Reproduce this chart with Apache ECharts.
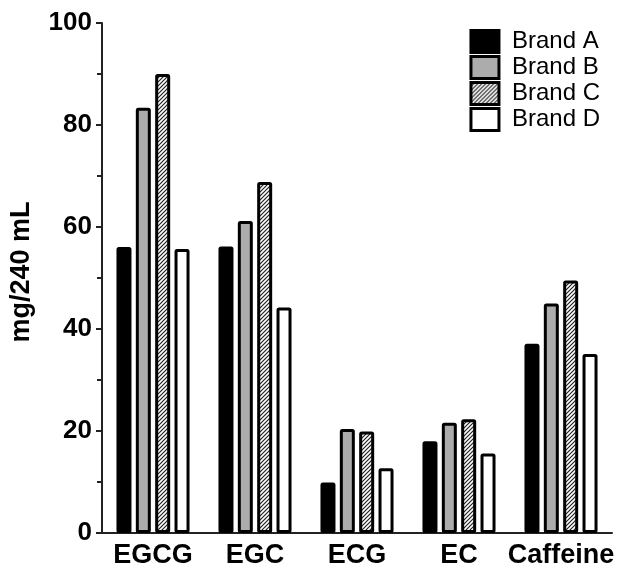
<!DOCTYPE html>
<html>
<head>
<meta charset="utf-8">
<script src="https://cdn.jsdelivr.net/npm/echarts@6/dist/echarts.min.js"></script>
<style>
  html, body { margin: 0; padding: 0; background: #fff; }
  #chart { width: 619px; height: 569px; }
</style>
</head>
<body>
<div id="chart"></div>
<script>
var categories = ['EGCG', 'EGC', 'ECG', 'EC', 'Caffeine'];
var brandA = [56.1, 56.2, 9.9, 18.0, 37.1];
var brandB = [83.4, 61.2, 20.4, 21.6, 45.0];
var brandC = [90.0, 68.8, 19.9, 22.3, 49.5];
var brandD = [55.7, 44.2, 12.7, 15.6, 35.1];
var yTicks = [0, 20, 40, 60, 80, 100];

// diagonal hatch for Brand C
function hatch() {
    var c = document.createElement('canvas');
    c.width = 4; c.height = 4;
    var ctx = c.getContext('2d');
    ctx.fillStyle = '#fff';
    ctx.fillRect(0, 0, 4, 4);
    ctx.strokeStyle = '#222';
    ctx.lineWidth = 1.2;
    ctx.beginPath();
    ctx.moveTo(0, 4); ctx.lineTo(4, 0);
    ctx.moveTo(-1, 1); ctx.lineTo(1, -1);
    ctx.moveTo(3, 5); ctx.lineTo(5, 3);
    ctx.stroke();
    return { image: c, repeat: 'repeat' };
}

function bar(name, data, fill) {
    return {
        name: name,
        type: 'bar',
        data: data,
        barWidth: 15,
        barGap: '29%',
        itemStyle: {
            color: fill,
            borderColor: '#000',
            borderWidth: 3,
            borderRadius: 1
        }
    };
}

var option = {
    animation: false,
    grid: { left: 99, right: 7, top: 23, bottom: 36 },
    legend: {
        right: 14,
        top: 24,
        orient: 'vertical',
        itemWidth: 28,
        itemHeight: 22,
        itemGap: 1,
        icon: 'rect',
        itemStyle: { borderWidth: 3, borderColor: '#000' },
        textStyle: {
            fontFamily: 'Liberation Sans',
            fontSize: 24,
            color: '#000',
            padding: [0, 0, 0, 8]
        }
    },
    xAxis: {
        type: 'category',
        data: categories,
        axisLine: { lineStyle: { color: '#222', width: 2 } },
        axisTick: { show: false },
        axisLabel: {
            interval: 0,
            fontFamily: 'Liberation Sans',
            fontWeight: 'bold',
            fontSize: 27,
            color: '#000',
            margin: 9
        }
    },
    yAxis: {
        type: 'value',
        min: yTicks[0],
        max: yTicks[yTicks.length - 1],
        interval: 20,
        name: 'mg/240 mL',
        nameLocation: 'middle',
        nameGap: 67,
        nameTextStyle: {
            fontFamily: 'Liberation Sans',
            fontWeight: 'bold',
            fontSize: 27,
            color: '#000',
            padding: [0, 0, 0, 12]
        },
        axisLine: { show: true, lineStyle: { color: '#222', width: 2 } },
        axisTick: { show: true, length: 6, lineStyle: { color: '#222', width: 2 } },
        minorTick: { show: true, splitNumber: 2, length: 5, lineStyle: { color: '#222', width: 2 } },
        splitLine: { show: false },
        axisLabel: {
            fontFamily: 'Liberation Sans',
            fontWeight: 'bold',
            fontSize: 26,
            color: '#000',
            margin: 10
        }
    },
    series: [
        bar('Brand A', brandA, '#000'),
        bar('Brand B', brandB, '#acacac'),
        bar('Brand C', brandC, hatch()),
        bar('Brand D', brandD, '#fff')
    ]
};

echarts.init(document.getElementById('chart')).setOption(option);
</script>
</body>
</html>
